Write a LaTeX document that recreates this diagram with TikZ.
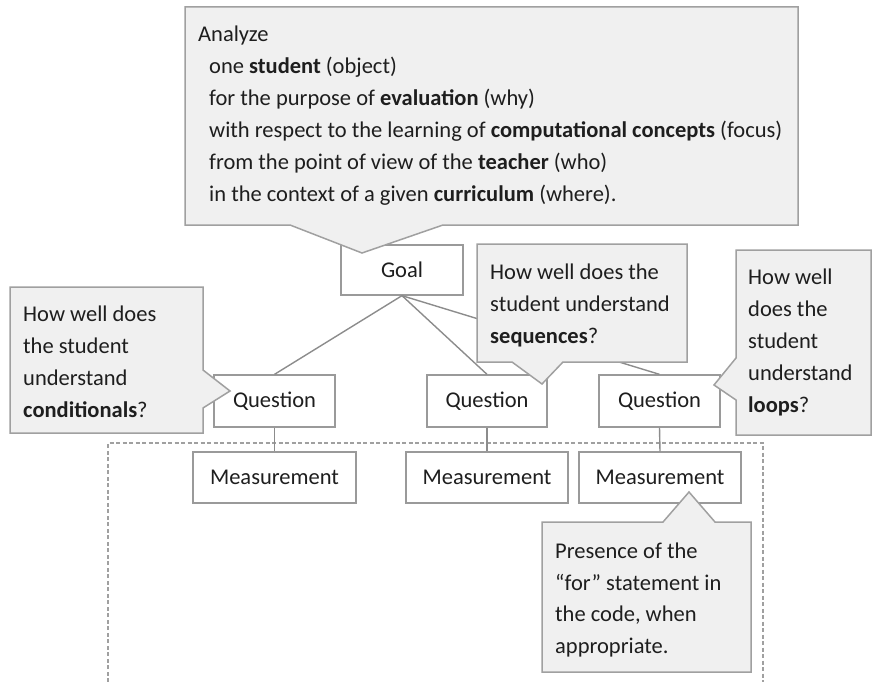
\documentclass[tikz,border=0pt]{standalone}
\usepackage{fontspec}
\setmainfont{Carlito}
\definecolor{callfill}{HTML}{F0F0F0}
\definecolor{calldraw}{HTML}{A0A0A0}
\definecolor{boxdraw}{HTML}{9A9A9A}
\definecolor{linecol}{HTML}{8C8C8C}
\definecolor{txtcol}{HTML}{1E1E1E}
\begin{document}
\begin{tikzpicture}[x=1pt,y=-1pt,
  every node/.style={font=\fontsize{22.5}{32}\selectfont, text=txtcol},
  box/.style={draw=boxdraw, line width=1.3pt, fill=white, inner sep=0pt},
  conn/.style={draw=linecol, line width=1.4pt},
  callout/.style={draw=calldraw, fill=callfill, line width=1.5pt, line join=miter},
  txt/.style={anchor=base west, inner sep=0pt},
  frame/.style={draw=calldraw, line width=1.1pt, dash pattern=on 4pt off 2.5pt}]
\useasboundingbox (0,0) rectangle (873,682);

% dashed frame
\draw[frame] (108,682) -- (108,443) -- (763,443) -- (763,682);

% boxes
\node[box, minimum width=122pt, minimum height=50pt] (goal) at (402,270) {Goal};
\node[box, minimum width=121pt, minimum height=52pt] (q1) at (274.5,401) {Question};
\node[box, minimum width=120pt, minimum height=52pt] (q2) at (487,401) {Question};
\node[box, minimum width=121pt, minimum height=52pt] (q3) at (659.5,401) {Question};
\node[box, minimum width=163pt, minimum height=51pt] (m1) at (274.5,477.5) {Measurement};
\node[box, minimum width=162pt, minimum height=51pt] (m2) at (487,477.5) {Measurement};
\node[box, minimum width=162pt, minimum height=51pt] (m3) at (660,477.5) {Measurement};

% connectors
\draw[conn] (goal.south) -- (q1.north);
\draw[conn] (goal.south) -- (q2.north);
\draw[conn] (goal.south) -- (q3.north);
\draw[conn] (q1.south) -- (m1.north);
\draw[conn] (q2.south) -- (m2.north);
\draw[conn] (q3.south) -- (m3.north);

% callouts
\draw[callout] (185,7) -- (798,7) -- (798,225) -- (443,225) -- (362,253) -- (290,225) -- (185,225) -- cycle;
\draw[callout] (477,244) -- (687,244) -- (687,362) -- (563,362) -- (542,384) -- (512,362) -- (477,362) -- cycle;
\draw[callout] (736,250) -- (871,250) -- (871,435) -- (736,435) -- (736,400) -- (714,385) -- (736,358) -- cycle;
\draw[callout] (10,287) -- (203,287) -- (203,370) -- (230,391) -- (203,408) -- (203,433) -- (10,433) -- cycle;
\draw[callout] (542,522) -- (663,522) -- (689,492) -- (715,522) -- (751,522) -- (751,672) -- (542,672) -- cycle;

% goal callout text
\node[txt] (g1) at (198,41.7) {Analyze};
\node[txt] (g2) at (209,73.7) {one \textbf{student} (object)};
\node[txt] (g3) at (209,105.7) {for the purpose of \textbf{evaluation} (why)};
\node[txt] (g4) at (209,137.7) {with respect to the learning of \textbf{computational concepts} (focus)};
\node[txt] (g5) at (209,169.7) {from the point of view of the \textbf{teacher} (who)};
\node[txt] (g6) at (209,201.7) {in the context of a given \textbf{curriculum} (where).};

% conditionals callout text
\node[txt] (c1) at (23,321) {How well does};
\node[txt] (c2) at (23,353) {the student};
\node[txt] (c3) at (23,385) {understand};
\node[txt] (c4) at (23,417) {\textbf{conditionals}?};

% sequences callout text
\node[txt] (s1) at (490,279) {How well does the};
\node[txt] (s2) at (490,311) {student understand};
\node[txt] (s3) at (490,343) {\textbf{sequences}?};

% loops callout text
\node[txt] (l1) at (748,284) {How well};
\node[txt] (l2) at (748,316) {does the};
\node[txt] (l3) at (748,348) {student};
\node[txt] (l4) at (748,380) {understand};
\node[txt] (l5) at (748,412) {\textbf{loops}?};

% measurement callout text
\node[txt] (p1) at (555,558) {Presence of the};
\node[txt] (p2) at (555,590) {“for” statement in};
\node[txt] (p3) at (555,621) {the code, when};
\node[txt] (p4) at (555,653) {appropriate.};
\end{tikzpicture}
\end{document}
